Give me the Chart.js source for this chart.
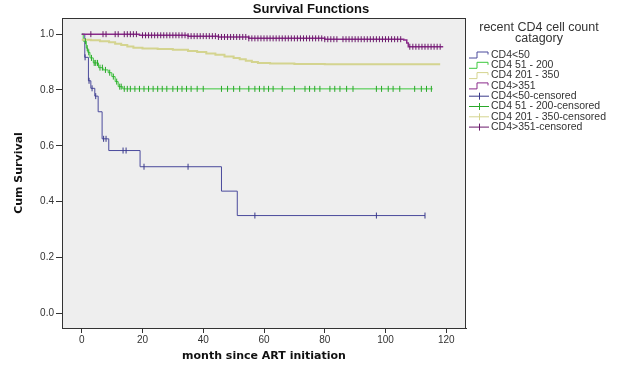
<!DOCTYPE html>
<html>
<head>
<meta charset="utf-8">
<script src="https://cdn.jsdelivr.net/npm/chart.js@4"></script>
<style>
  html, body { margin: 0; padding: 0; background: #ffffff; }
  #wrap { width: 623px; height: 368px; position: relative; }
</style>
</head>
<body>
<div id="wrap"><canvas id="chart" width="623" height="368"></canvas></div>
<script>
// Axis ticks
const xTicks = [0, 20, 40, 60, 80, 100, 120];
const yTicks = [0.0, 0.2, 0.4, 0.6, 0.8, 1.0];

// Groups (legend labels)
const groups = ['CD4<50', 'CD4 51 - 200', 'CD4 201 - 350', 'CD4>351'];

// Kaplan-Meier steps (month, cum survival)
const lt50Time = [0, 1, 2.2, 3, 4.3, 5.4, 6.7, 8.9, 19.2, 46, 51.2, 113];
const lt50Surv = [1.0, 0.917, 0.833, 0.806, 0.778, 0.722, 0.625, 0.583, 0.525, 0.4375, 0.35, 0.35];

const mid1Time = [0, 0.5, 1.5, 2, 2.7, 3.8, 5.5, 7, 8.7, 9.9, 11, 12, 13.5, 115.5];
const mid1Surv = [1.0, 0.975, 0.95, 0.935, 0.915, 0.897, 0.88, 0.872, 0.862, 0.848, 0.83, 0.812, 0.804, 0.804];

const mid2Time = [0, 3, 6, 9, 11, 13, 15, 17, 20, 25, 30, 35, 38, 41, 44, 47, 50, 52, 54, 56, 58, 62, 70, 80, 118];
const mid2Surv = [0.98, 0.978, 0.975, 0.971, 0.966, 0.961, 0.956, 0.951, 0.949, 0.947, 0.944, 0.94, 0.936, 0.931,
  0.926, 0.92, 0.915, 0.91, 0.905, 0.9, 0.897, 0.895, 0.893, 0.892, 0.892];

const gt351Time = [0, 19, 35, 45, 55, 80, 106, 107, 107.5, 119];
const gt351Surv = [1.0, 0.996, 0.993, 0.99, 0.985, 0.982, 0.979, 0.968, 0.955, 0.955];

// Censored times
const lt50Cens = [1.1, 2.4, 3.4, 4.6, 7.2, 8.0, 13.6, 14.6, 20.5, 35, 57, 97, 113];
const mid1Cens = [1.2, 1.8, 2.3, 3.2, 4.1, 4.6, 5.2, 6.0, 6.8, 7.8, 9.2, 10.4, 11.5, 12.5, 13.0, 14, 15, 16, 17.5, 19,
  20.5, 22, 23.5, 25, 26.5, 28, 30, 31.5, 33, 34.5, 36, 38, 40, 46, 48, 50, 52, 55, 57, 58.5, 60, 61.5, 63, 66, 70,
  73.5, 75, 76.7, 78.4, 81.7, 83.3, 85, 87.2, 89.3, 97, 98.7, 100.9, 102.5, 104.7, 109.6, 111.8, 113.5, 115.1];
const mid2Cens = [];
const gt351Cens = [3, 7, 8, 11, 12, 14, 15, 16, 17, 18, 20, 21, 22, 23, 24, 25, 26, 27, 28, 29, 30, 31, 32, 33, 34,
  35, 36, 37, 38, 39, 40, 41, 42, 43, 44, 45, 46, 47, 48, 49, 50, 51, 52, 53, 54, 55, 56, 57, 58, 59, 60, 61, 62,
  63, 64, 65, 66, 67, 68, 69, 70, 71, 72, 73, 74, 75, 76, 77, 78, 79, 80, 81, 82, 83, 84, 86, 87, 88, 89, 90, 91,
  92, 93, 94, 95, 96, 97, 98, 99, 100, 101, 102, 103, 104, 105, 108, 109, 110, 111, 112, 113, 114, 115, 116, 117, 118];

const colors = ['#4a4a9c', '#3cc83c', '#d4d48f', '#8a2a8a'];
const censColors = ['#3a3a8a', '#2aa82a', '#d4d48f', '#6a1a6a'];

// Helpers
function stepPoints(times, surv) {
    return times.map((t, i) => ({ x: t, y: surv[i] }));
}

function survivalAt(times, surv, t) {
    let s = surv[0];
    for (let i = 0; i < times.length; i++) {
        if (times[i] <= t) s = surv[i];
    }
    return s;
}

function censPoints(cens, times, surv) {
    return cens.map(t => ({ x: t, y: survivalAt(times, surv, t) }));
}

const curveTimes = [lt50Time, mid1Time, mid2Time, gt351Time];
const curveSurv = [lt50Surv, mid1Surv, mid2Surv, gt351Surv];
const curveCens = [lt50Cens, mid1Cens, mid2Cens, gt351Cens];
const lineWidths = [1, 1, 2, 1.5];

const datasets = [];
groups.forEach((g, i) => {
    datasets.push({
        label: g,
        kind: 'step',
        data: stepPoints(curveTimes[i], curveSurv[i]),
        showLine: true,
        stepped: 'before',
        borderColor: colors[i],
        borderWidth: lineWidths[i],
        pointRadius: 0,
        order: 10 - i
    });
});
groups.forEach((g, i) => {
    datasets.push({
        label: g + '-censored',
        kind: 'cens',
        data: censPoints(curveCens[i], curveTimes[i], curveSurv[i]),
        showLine: false,
        pointStyle: 'line',
        rotation: 90,
        pointRadius: 3,
        borderWidth: 1,
        borderColor: censColors[i],
        backgroundColor: censColors[i],
        order: 5 - i
    });
});

// Plot background + frame, title and legend
const decorPlugin = {
    id: 'decor',
    beforeDraw(chart) {
        const { ctx, chartArea: a } = chart;
        ctx.save();
        ctx.fillStyle = '#eeeeee';
        ctx.fillRect(a.left, a.top, a.right - a.left, a.bottom - a.top);
        ctx.restore();
    },
    afterDraw(chart) {
        const { ctx, chartArea: a } = chart;
        ctx.save();
        ctx.strokeStyle = '#333333';
        ctx.lineWidth = 1;
        ctx.strokeRect(a.left + 0.5, a.top + 0.5, a.right - a.left - 1, a.bottom - a.top);

        // chart title
        ctx.fillStyle = '#111111';
        ctx.font = 'bold 13px "Liberation Sans", Arial, sans-serif';
        ctx.textAlign = 'center';
        ctx.textBaseline = 'middle';
        ctx.fillText('Survival Functions', 311, 9);

        // legend
        ctx.fillStyle = '#333333';
        ctx.font = '12.5px "Liberation Sans", Arial, sans-serif';
        ctx.fillText('recent CD4 cell count', 539, 28);
        ctx.fillText('catagory', 539, 39);

        ctx.font = '10.5px "Liberation Sans", Arial, sans-serif';
        ctx.textAlign = 'left';
        chart.data.datasets.forEach((ds, i) => {
            const y = 54.5 + i * 10.3;
            const x0 = 469, x1 = 489;
            ctx.strokeStyle = ds.borderColor;
            ctx.lineWidth = 1;
            ctx.beginPath();
            if (ds.kind === 'step') {
                ctx.moveTo(x0, y + 3.5);
                ctx.lineTo(x0 + 8, y + 3.5);
                ctx.lineTo(x0 + 8, y - 2.5);
                ctx.lineTo(x1 - 1, y - 2.5);
                ctx.lineTo(x1 - 1, y);
            } else {
                ctx.moveTo(x0, y + 0.5);
                ctx.lineTo(x1, y + 0.5);
                ctx.moveTo(x0 + 10.5, y - 3);
                ctx.lineTo(x0 + 10.5, y + 4);
            }
            ctx.stroke();
            ctx.fillStyle = '#333333';
            ctx.fillText(ds.label, 491, y + 0.5);
        });
        ctx.restore();
    }
};

new Chart(document.getElementById('chart').getContext('2d'), {
    type: 'scatter',
    data: { datasets: datasets },
    options: {
        responsive: false,
        animation: false,
        layout: { padding: { top: 18, right: 157, left: 0, bottom: 0 } },
        plugins: {
            legend: { display: false },
            title: { display: false },
            tooltip: { enabled: false }
        },
        scales: {
            x: {
                type: 'linear',
                min: -6.5,
                max: 126.5,
                afterFit(scale) { scale.height = 40; },
                afterBuildTicks(scale) { scale.ticks = xTicks.map(v => ({ value: v })); },
                grid: { drawOnChartArea: false, drawTicks: true, tickLength: 5, color: '#333333' },
                border: { display: true, color: '#333333' },
                ticks: {
                    padding: 1,
                    color: '#333333',
                    font: { family: '"Liberation Sans", Arial, sans-serif', size: 10 },
                    callback: v => String(v)
                },
                title: {
                    display: true,
                    text: 'month since ART initiation',
                    color: '#111111',
                    font: { family: '"DejaVu Sans", Verdana, sans-serif', size: 11, weight: 'bold' },
                    padding: { top: 5, bottom: 5 }
                }
            },
            y: {
                type: 'linear',
                min: -0.053,
                max: 1.058,
                afterFit(scale) { scale.width = 62; },
                afterBuildTicks(scale) { scale.ticks = yTicks.map(v => ({ value: v })); },
                grid: { drawOnChartArea: false, drawTicks: true, tickLength: 6, color: '#333333' },
                border: { display: true, color: '#333333' },
                ticks: {
                    padding: 2,
                    color: '#333333',
                    font: { family: '"Liberation Sans", Arial, sans-serif', size: 10 },
                    callback: v => v.toFixed(1)
                },
                title: {
                    display: true,
                    text: 'Cum Survival',
                    color: '#111111',
                    font: { family: '"DejaVu Sans", Verdana, sans-serif', size: 11, weight: 'bold' },
                    padding: { top: 13, bottom: 13 }
                }
            }
        }
    },
    plugins: [decorPlugin]
});
</script>
</body>
</html>
